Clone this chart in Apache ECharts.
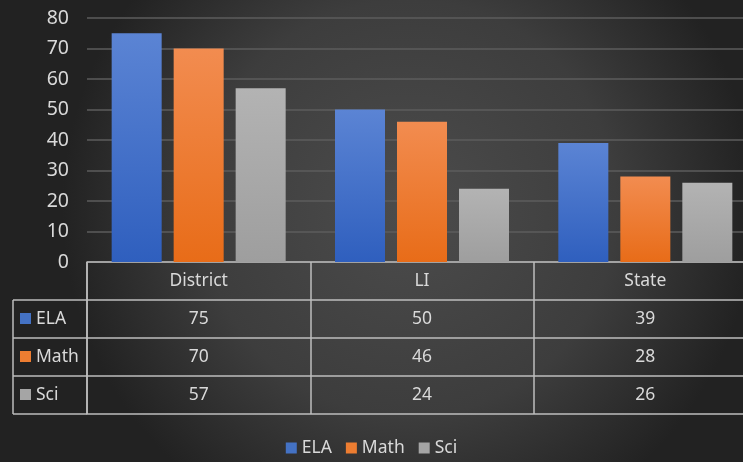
<!DOCTYPE html>
<html><head><meta charset="utf-8">
<style>html,body{margin:0;padding:0;background:#333;}#c{width:743px;height:462px;}</style>
<script src="https://cdn.jsdelivr.net/npm/echarts@6/dist/echarts.min.js"></script>
</head><body><div id="c"></div>
<script>
const categories = ['District', 'LI', 'State'];
const seriesNames = ['ELA', 'Math', 'Sci'];
const ela = [75, 50, 39];
const math = [70, 46, 28];
const sci = [57, 24, 26];
const yTicks = [0, 10, 20, 30, 40, 50, 60, 70, 80];

const values = [ela, math, sci];
const colors = [
  ['#5b84d4', '#2f5fbe'],
  ['#f28c50', '#e86c18'],
  ['#b3b3b3', '#9e9e9e']
];
const iconColors = ['#4472c4', '#ed7d31', '#a5a5a5'];
const txt = '#d9d9d9';
const lineC = '#bdbdbd';
const FONT = 'Noto Sans';
const rowH = 38;

const chart = echarts.init(document.getElementById('c'));

const xAxes = [];
for (let r = 0; r <= seriesNames.length; r++) {
  xAxes.push({
    type: 'category',
    data: categories,
    position: 'bottom',
    offset: r * rowH,
    axisLine: { show: true, lineStyle: { color: lineC, width: 1.5 } },
    axisTick: { show: true, length: rowH, lineStyle: { color: lineC, width: 1.5 } },
    axisLabel: {
      color: txt, fontSize: 17.5, fontFamily: FONT, margin: 19, verticalAlign: 'middle',
      formatter: r === 0 ? (v => v) : ((v, i) => String(values[r - 1][i]))
    }
  });
}
xAxes.push({
  type: 'category', data: categories, position: 'bottom', offset: (seriesNames.length + 1) * rowH,
  axisLine: { show: true, lineStyle: { color: lineC, width: 1.5 } },
  axisTick: { show: false }, axisLabel: { show: false }
});

const series = seriesNames.map((n, i) => ({
  name: n,
  type: 'bar',
  xAxisIndex: 0,
  data: values[i],
  barWidth: 50,
  barGap: '24%',
  itemStyle: {
    color: new echarts.graphic.LinearGradient(0, 0, 0, 1, [
      { offset: 0, color: colors[i][0] }, { offset: 1, color: colors[i][1] }
    ]),
    shadowColor: 'rgba(0,0,0,0.35)', shadowBlur: 4, shadowOffsetX: 1
  }
}));

const gridLeft = 87, gridTop = 18, gridH = 244;
const baseY = gridTop + gridH;
const graphics = [];
for (let r = 1; r <= seriesNames.length + 1; r++) {
  graphics.push({ type: 'line', shape: { x1: 13, y1: baseY + r * rowH, x2: gridLeft, y2: baseY + r * rowH },
    style: { stroke: lineC, lineWidth: 1.5 } });
}
graphics.push({ type: 'line', shape: { x1: 13, y1: baseY + rowH, x2: 13, y2: baseY + (seriesNames.length + 1) * rowH },
  style: { stroke: lineC, lineWidth: 1.5 } });
graphics.push({ type: 'line', shape: { x1: gridLeft, y1: baseY, x2: gridLeft, y2: baseY + (seriesNames.length + 1) * rowH },
  style: { stroke: lineC, lineWidth: 1.5 } });
seriesNames.forEach((n, i) => {
  const cy = baseY + (i + 1) * rowH + rowH / 2;
  graphics.push({ type: 'rect', shape: { x: 20, y: cy - 6, width: 11, height: 11 }, style: { fill: iconColors[i] } });
  graphics.push({ type: 'text', x: 36, y: cy, style: { text: n, fill: txt, fontSize: 17.5, fontFamily: FONT, verticalAlign: 'middle' } });
});

chart.setOption({
  backgroundColor: new echarts.graphic.RadialGradient(0.55, 0.45, 0.75, [
    { offset: 0, color: '#4c4c4c' }, { offset: 0.6, color: '#3d3d3d' }, { offset: 1, color: '#222222' }
  ]),
  textStyle: { fontFamily: FONT },
  grid: { left: gridLeft, top: gridTop, width: 670, height: gridH, outerBoundsMode: 'none', containLabel: false },
  legend: {
    data: seriesNames.map((n, i) => ({ name: n, itemStyle: { color: iconColors[i] } })),
    bottom: 0, left: 'center', icon: 'rect', itemWidth: 11, itemHeight: 11, itemGap: 14,
    textStyle: { color: txt, fontSize: 17.5, fontFamily: FONT }
  },
  xAxis: xAxes,
  yAxis: {
    type: 'value', min: yTicks[0], max: yTicks[yTicks.length - 1], interval: 10,
    axisLine: { show: false }, axisTick: { show: false },
    axisLabel: { color: txt, fontSize: 19.5, fontFamily: FONT, margin: 18 },
    splitLine: { lineStyle: { color: '#5c5c5c', width: 1.5 } }
  },
  series: series,
  graphic: graphics
});
</script></body></html>
